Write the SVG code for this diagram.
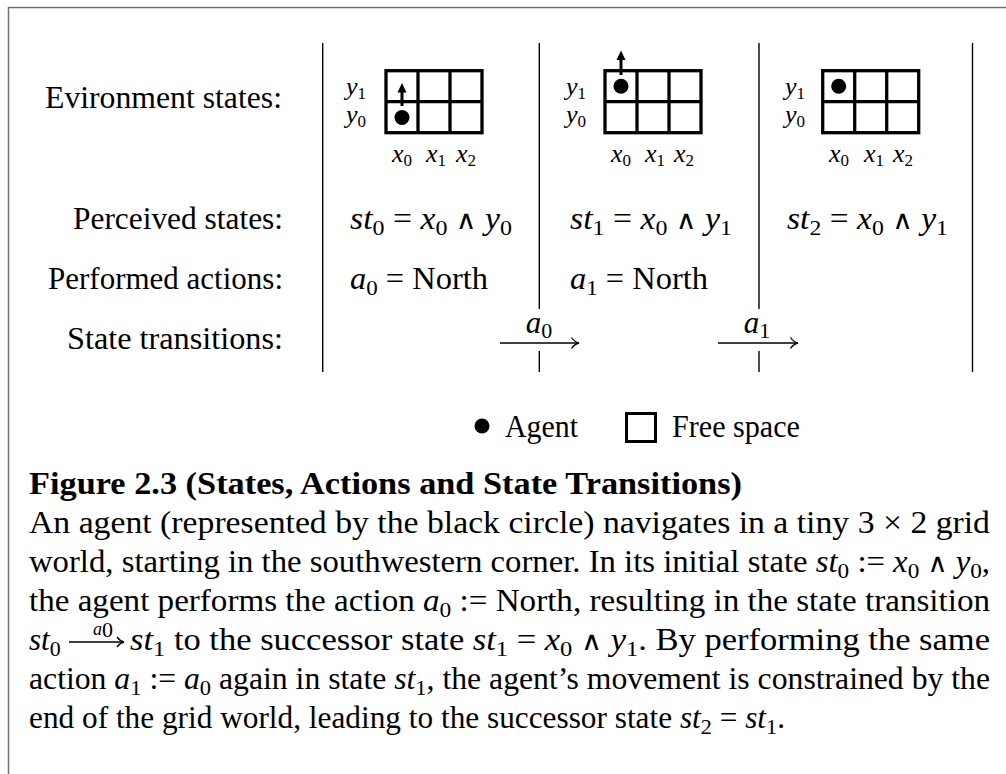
<svg xmlns="http://www.w3.org/2000/svg" width="1006" height="774" viewBox="0 0 1006 774">
<style>
.t{font-family:"Liberation Serif","DejaVu Serif",serif;font-size:31px;fill:#000}
.b{font-weight:bold}
.i{font-style:italic}
.s{font-size:22px;font-style:normal}
.w{font-family:"DejaVu Serif",serif;font-size:26px;font-weight:normal}
.g{font-family:"Liberation Serif","DejaVu Serif",serif;font-size:26px;font-style:italic;fill:#000}
.gs{font-size:17px;font-style:normal}
.sep{stroke:#000;stroke-width:1.4;fill:none}
.cell{fill:#fff;stroke:#000;stroke-width:3.3}
.arr{stroke:#000;stroke-width:1.3;fill:none}
.mv{stroke:#000;stroke-width:3;fill:none}
</style>
<defs>
<g id="gridshape">
<rect class="cell" x="0" y="0" width="96" height="62"/>
<path class="cell" d="M32,0V62M64,0V62M0,31H96"/>
</g>
</defs>
<rect x="0" y="0" width="1006" height="774" fill="#fff"/>
<path d="M8.5,774V7.5H1006" stroke="#707070" stroke-width="1.5" fill="none"/>

<g id="row-labels">
<text class="t" x="282" y="108" text-anchor="end" textLength="237" lengthAdjust="spacingAndGlyphs">Evironment states:</text>
<text class="t" x="283" y="229" text-anchor="end" textLength="210" lengthAdjust="spacingAndGlyphs">Perceived states:</text>
<text class="t" x="283" y="289" text-anchor="end" textLength="235" lengthAdjust="spacingAndGlyphs">Performed actions:</text>
<text class="t" x="283" y="349" text-anchor="end" textLength="216" lengthAdjust="spacingAndGlyphs">State transitions:</text>
</g>

<g id="separators">
<path class="sep" d="M322.7,43V372"/>
<path class="sep" d="M539.3,43V309M539.3,351V372"/>
<path class="sep" d="M759,43V309M759,351V372"/>
<path class="sep" d="M972.5,43V372"/>
</g>

<g id="grid0">
<use href="#gridshape" x="386" y="70.7"/>
<circle cx="402" cy="117.5" r="7.5" fill="#000"/>
<path class="mv" d="M402,106V91"/>
<path d="M402,83L406.5,92.5H397.5Z" fill="#000"/>
<text class="g" x="346" y="95">y<tspan class="gs" dy="4">1</tspan></text>
<text class="g" x="346" y="123">y<tspan class="gs" dy="4">0</tspan></text>
<text class="g" x="392" y="162">x<tspan class="gs" dy="4">0</tspan></text>
<text class="g" x="426" y="162">x<tspan class="gs" dy="4">1</tspan></text>
<text class="g" x="456" y="162">x<tspan class="gs" dy="4">2</tspan></text>
</g>

<g id="grid1">
<use href="#gridshape" x="605" y="70.7"/>
<circle cx="621" cy="86.2" r="7.5" fill="#000"/>
<path class="mv" d="M621,75V59"/>
<path d="M621,50.5L625.5,60H616.5Z" fill="#000"/>
<text class="g" x="566" y="95">y<tspan class="gs" dy="4">1</tspan></text>
<text class="g" x="566" y="123">y<tspan class="gs" dy="4">0</tspan></text>
<text class="g" x="611" y="162">x<tspan class="gs" dy="4">0</tspan></text>
<text class="g" x="645" y="162">x<tspan class="gs" dy="4">1</tspan></text>
<text class="g" x="674" y="162">x<tspan class="gs" dy="4">2</tspan></text>
</g>

<g id="grid2">
<use href="#gridshape" x="822.7" y="70.7"/>
<circle cx="838.7" cy="86.2" r="7.5" fill="#000"/>
<text class="g" x="785" y="95">y<tspan class="gs" dy="4">1</tspan></text>
<text class="g" x="785" y="123">y<tspan class="gs" dy="4">0</tspan></text>
<text class="g" x="829" y="162">x<tspan class="gs" dy="4">0</tspan></text>
<text class="g" x="864" y="162">x<tspan class="gs" dy="4">1</tspan></text>
<text class="g" x="893" y="162">x<tspan class="gs" dy="4">2</tspan></text>
</g>

<g id="state0">
<text class="t" x="350" y="229" textLength="162" lengthAdjust="spacingAndGlyphs"><tspan class="i">st</tspan><tspan class="s" dy="6">0</tspan><tspan dy="-6"> = </tspan><tspan class="i">x</tspan><tspan class="s" dy="6">0</tspan><tspan dy="-6"> </tspan><tspan class="w">∧</tspan><tspan> </tspan><tspan class="i">y</tspan><tspan class="s" dy="6">0</tspan></text>
<text class="t" x="350" y="289" textLength="138" lengthAdjust="spacingAndGlyphs"><tspan class="i">a</tspan><tspan class="s" dy="6">0</tspan><tspan dy="-6"> = North</tspan></text>
</g>
<g id="state1">
<text class="t" x="570" y="229" textLength="162" lengthAdjust="spacingAndGlyphs"><tspan class="i">st</tspan><tspan class="s" dy="6">1</tspan><tspan dy="-6"> = </tspan><tspan class="i">x</tspan><tspan class="s" dy="6">0</tspan><tspan dy="-6"> </tspan><tspan class="w">∧</tspan><tspan> </tspan><tspan class="i">y</tspan><tspan class="s" dy="6">1</tspan></text>
<text class="t" x="570" y="289" textLength="138" lengthAdjust="spacingAndGlyphs"><tspan class="i">a</tspan><tspan class="s" dy="6">1</tspan><tspan dy="-6"> = North</tspan></text>
</g>
<g id="state2">
<text class="t" x="787" y="229" textLength="161" lengthAdjust="spacingAndGlyphs"><tspan class="i">st</tspan><tspan class="s" dy="6">2</tspan><tspan dy="-6"> = </tspan><tspan class="i">x</tspan><tspan class="s" dy="6">0</tspan><tspan dy="-6"> </tspan><tspan class="w">∧</tspan><tspan> </tspan><tspan class="i">y</tspan><tspan class="s" dy="6">1</tspan></text>
</g>

<g id="connectors">
<path class="arr" d="M500,343H578.5"/>
<path class="arr" d="M571.5,337.5C573.5,340.5 576,342.4 579,343C576,343.6 573.5,345.5 571.5,348.5"/>
<text class="t" x="539" y="333" text-anchor="middle"><tspan class="i">a</tspan><tspan class="s" dy="5">0</tspan></text>
<path class="arr" d="M718,343H797.5"/>
<path class="arr" d="M790.5,337.5C792.5,340.5 795,342.4 798,343C795,343.6 792.5,345.5 790.5,348.5"/>
<text class="t" x="757" y="333" text-anchor="middle"><tspan class="i">a</tspan><tspan class="s" dy="5">1</tspan></text>
</g>

<g id="legend">
<circle cx="482" cy="426" r="7.5" fill="#000"/>
<text class="t" x="505" y="437" textLength="73" lengthAdjust="spacingAndGlyphs">Agent</text>
<rect x="626.5" y="413.5" width="29" height="28" fill="#fff" stroke="#000" stroke-width="3"/>
<text class="t" x="672" y="437" textLength="128" lengthAdjust="spacingAndGlyphs">Free space</text>
</g>

<g id="caption">
<text class="t b" x="29" y="494" textLength="713" lengthAdjust="spacingAndGlyphs">Figure 2.3 (States, Actions and State Transitions)</text>
<text class="t" x="29" y="533" textLength="961" lengthAdjust="spacingAndGlyphs">An agent (represented by the black circle) navigates in a tiny 3 × 2 grid</text>
<text class="t" x="29" y="572" textLength="961" lengthAdjust="spacingAndGlyphs">world, starting in the southwestern corner. In its initial state <tspan class="i">st</tspan><tspan class="s" dy="6">0</tspan><tspan dy="-6"> := </tspan><tspan class="i">x</tspan><tspan class="s" dy="6">0</tspan><tspan dy="-6"> </tspan><tspan class="w">∧</tspan><tspan> </tspan><tspan class="i">y</tspan><tspan class="s" dy="6">0</tspan><tspan dy="-6">,</tspan></text>
<text class="t" x="29" y="611" textLength="961" lengthAdjust="spacingAndGlyphs">the agent performs the action <tspan class="i">a</tspan><tspan class="s" dy="6">0</tspan><tspan dy="-6"> := North, resulting in the state transition</tspan></text>
<text class="t" x="29" y="650"><tspan class="i">st</tspan><tspan class="s" dy="6">0</tspan></text>
<path class="arr" d="M69,642H123.5"/>
<path class="arr" d="M117,637C119,639.7 121,641.4 124,642C121,642.6 119,644.3 117,647"/>
<text class="t" x="103" y="635" text-anchor="middle" font-size="18"><tspan class="i" font-size="18">a</tspan><tspan class="s" font-size="13" dy="2">0</tspan></text>
<text class="t" x="130" y="650" textLength="860" lengthAdjust="spacingAndGlyphs"><tspan class="i">st</tspan><tspan class="s" dy="6">1</tspan><tspan dy="-6"> to the successor state </tspan><tspan class="i">st</tspan><tspan class="s" dy="6">1</tspan><tspan dy="-6"> = </tspan><tspan class="i">x</tspan><tspan class="s" dy="6">0</tspan><tspan dy="-6"> </tspan><tspan class="w">∧</tspan><tspan> </tspan><tspan class="i">y</tspan><tspan class="s" dy="6">1</tspan><tspan dy="-6">. By performing the same</tspan></text>
<text class="t" x="29" y="689" textLength="961" lengthAdjust="spacingAndGlyphs">action <tspan class="i">a</tspan><tspan class="s" dy="6">1</tspan><tspan dy="-6"> := </tspan><tspan class="i">a</tspan><tspan class="s" dy="6">0</tspan><tspan dy="-6"> again in state </tspan><tspan class="i">st</tspan><tspan class="s" dy="6">1</tspan><tspan dy="-6">, the agent’s movement is constrained by the</tspan></text>
<text class="t" x="29" y="728" textLength="756" lengthAdjust="spacingAndGlyphs">end of the grid world, leading to the successor state <tspan class="i">st</tspan><tspan class="s" dy="6">2</tspan><tspan dy="-6"> = </tspan><tspan class="i">st</tspan><tspan class="s" dy="6">1</tspan><tspan dy="-6">.</tspan></text>
</g>
</svg>
